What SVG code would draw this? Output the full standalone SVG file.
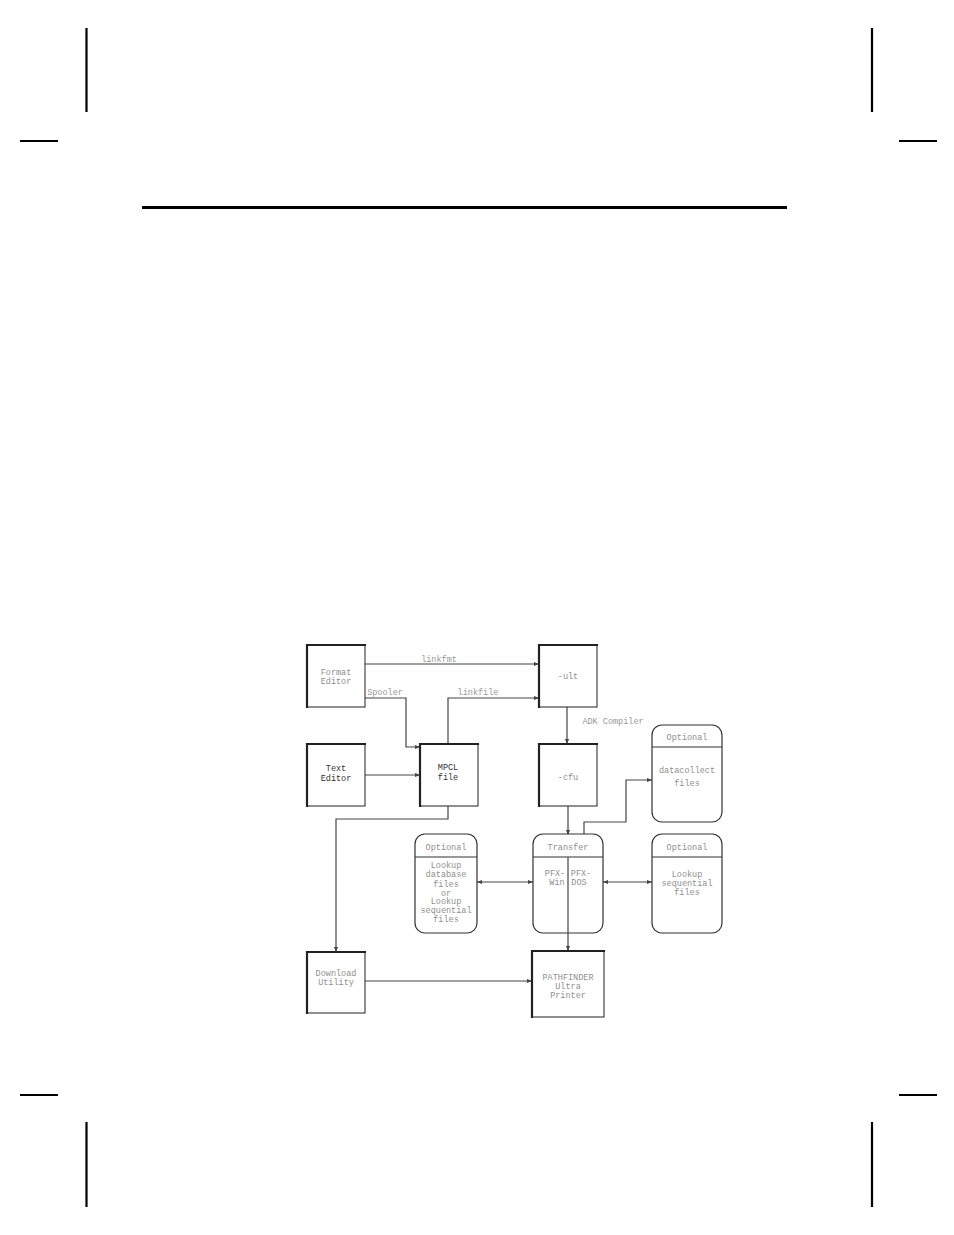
<svg xmlns="http://www.w3.org/2000/svg" width="954" height="1235" viewBox="0 0 954 1235">
<style>
.crop{stroke:#000;stroke-width:2.2;fill:none}
.thin{fill:#fff;stroke:#333;stroke-width:1.1}
.thick{stroke:#222;stroke-width:2.2;fill:none;stroke-linecap:square}
.rnd{fill:#fff;stroke:#333;stroke-width:1.2}
.div{stroke:#333;stroke-width:1.1}
.con{stroke:#444;stroke-width:1.2;fill:none}
text{font-family:"Liberation Mono","DejaVu Sans Mono",monospace;font-size:8.5px;fill:#8f8f8f;text-anchor:middle}
.dark{fill:#333}
.lbl{fill:#999}
</style>
<defs>
<marker id="arr" viewBox="0 0 10 10" refX="10" refY="5" markerWidth="5" markerHeight="5" orient="auto-start-reverse" markerUnits="userSpaceOnUse">
<path d="M0,1 L10,5 L0,9 z" fill="#444"/>
</marker>
</defs>
<rect width="954" height="1235" fill="#fff"/>
<g id="page-marks">
<line class="crop" x1="86.5" y1="28" x2="86.5" y2="112"/>
<line class="crop" x1="20" y1="141" x2="58" y2="141"/>
<line class="crop" x1="872" y1="28" x2="872" y2="112"/>
<line class="crop" x1="899" y1="141" x2="937" y2="141"/>
<line class="crop" x1="20" y1="1095" x2="58" y2="1095"/>
<line class="crop" x1="86.5" y1="1122" x2="86.5" y2="1207"/>
<line class="crop" x1="899" y1="1095" x2="937" y2="1095"/>
<line class="crop" x1="872" y1="1122" x2="872" y2="1207"/>
<line x1="142" y1="207.5" x2="787" y2="207.5" stroke="#000" stroke-width="2.8"/>
</g>
<g id="connectors">
<line class="con" x1="365" y1="664" x2="539" y2="664" marker-end="url(#arr)"/>
<polyline class="con" points="365,698 406,698 406,747 420,747" marker-end="url(#arr)"/>
<polyline class="con" points="448,744 448,698 539,698" marker-end="url(#arr)"/>
<line class="con" x1="365" y1="775" x2="420" y2="775" marker-end="url(#arr)"/>
<line class="con" x1="567" y1="707" x2="567" y2="744" marker-end="url(#arr)"/>
<polyline class="con" points="448,806 448,819 336,819 336,952" marker-end="url(#arr)"/>
<line class="con" x1="568" y1="806" x2="568" y2="835" marker-end="url(#arr)"/>
<line class="con" x1="568" y1="857" x2="568" y2="951" marker-end="url(#arr)"/>
<polyline class="con" points="584,835 584,822 626,822 626,780 652,780" marker-end="url(#arr)"/>
<line class="con" x1="477" y1="882" x2="533" y2="882" marker-start="url(#arr)" marker-end="url(#arr)"/>
<line class="con" x1="603" y1="882" x2="652" y2="882" marker-start="url(#arr)" marker-end="url(#arr)"/>
<line class="con" x1="365" y1="981" x2="532" y2="981" marker-end="url(#arr)"/>
<text class="lbl" x="439" y="662">linkfmt</text>
<text class="lbl" x="385" y="695">Spooler</text>
<text class="lbl" x="478" y="695">linkfile</text>
<text class="lbl" x="613" y="724">ADK Compiler</text>
</g>
<g id="format-editor">
<rect class="thin" x="307" y="645" width="58" height="62"/>
<polyline class="thick" points="307,707 307,645 365,645"/>
<text x="336" y="675">Format</text>
<text x="336" y="684">Editor</text>
</g>
<g id="text-editor">
<rect class="thin" x="307" y="744" width="58" height="62"/>
<polyline class="thick" points="307,806 307,744 365,744"/>
<text class="dark" x="336" y="771">Text</text>
<text class="dark" x="336" y="781">Editor</text>
</g>
<g id="mpcl-file">
<rect class="thin" x="420" y="744" width="58" height="62"/>
<polyline class="thick" points="420,806 420,744 478,744"/>
<text class="dark" x="448" y="770">MPCL</text>
<text class="dark" x="448" y="780">file</text>
</g>
<g id="ult">
<rect class="thin" x="539" y="645" width="58" height="62"/>
<polyline class="thick" points="539,707 539,645 597,645"/>
<text x="568" y="679">-ult</text>
</g>
<g id="cfu">
<rect class="thin" x="539" y="744" width="58" height="62"/>
<polyline class="thick" points="539,806 539,744 597,744"/>
<text x="568" y="780">-cfu</text>
</g>
<g id="datacollect">
<rect class="rnd" x="652" y="725" width="70" height="97" rx="10"/>
<line class="div" x1="652" y1="747" x2="722" y2="747"/>
<text x="687" y="740">Optional</text>
<text x="687" y="773">datacollect</text>
<text x="687" y="786">files</text>
</g>
<g id="lookup-database">
<rect class="rnd" x="415" y="834" width="62" height="99" rx="10"/>
<line class="div" x1="415" y1="857" x2="477" y2="857"/>
<text x="446" y="850">Optional</text>
<text x="446" y="868">Lookup</text>
<text x="446" y="877">database</text>
<text x="446" y="887">files</text>
<text x="446" y="896">or</text>
<text x="446" y="904">Lookup</text>
<text x="446" y="913">sequential</text>
<text x="446" y="922">files</text>
</g>
<g id="transfer">
<rect class="rnd" x="533" y="834" width="70" height="99" rx="10"/>
<line class="div" x1="533" y1="857" x2="603" y2="857"/>
<line class="con" x1="568" y1="857" x2="568" y2="933"/>
<text x="568" y="850">Transfer</text>
<text x="555" y="876">PFX-</text>
<text x="557" y="885">Win</text>
<text x="581" y="876">PFX-</text>
<text x="579" y="885">DOS</text>
</g>
<g id="lookup-sequential">
<rect class="rnd" x="652" y="834" width="70" height="99" rx="10"/>
<line class="div" x1="652" y1="857" x2="722" y2="857"/>
<text x="687" y="850">Optional</text>
<text x="687" y="877">Lookup</text>
<text x="687" y="886">sequential</text>
<text x="687" y="895">files</text>
</g>
<g id="download-utility">
<rect class="thin" x="307" y="952" width="58" height="61"/>
<polyline class="thick" points="307,1013 307,952 365,952"/>
<text x="336" y="976">Download</text>
<text x="336" y="985">Utility</text>
</g>
<g id="pathfinder">
<rect class="thin" x="532" y="951" width="72" height="66"/>
<polyline class="thick" points="532,1017 532,951 604,951"/>
<text x="568" y="980">PATHFINDER</text>
<text x="568" y="989">Ultra</text>
<text x="568" y="998">Printer</text>
</g>
</svg>
